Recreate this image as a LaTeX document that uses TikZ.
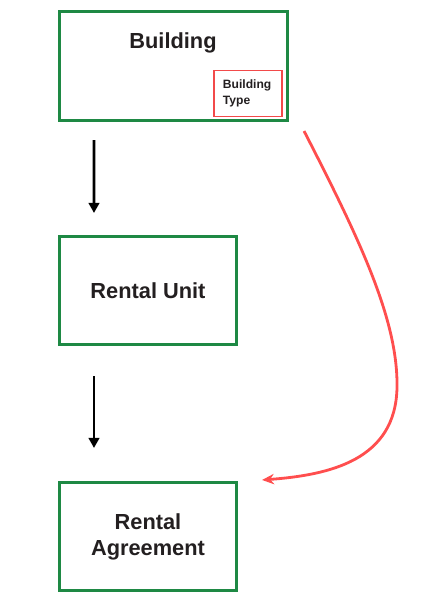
\documentclass[tikz,border=0pt]{standalone}
\usepackage{xcolor}
\usepackage{fontspec}
\setmainfont{Liberation Sans}
\usepackage{tikz}
\usetikzlibrary{arrows.meta}

\definecolor{boxgreen}{RGB}{30,137,68}
\definecolor{linkred}{RGB}{255,78,78}
\definecolor{textdark}{RGB}{35,31,32}

\begin{document}
\begin{tikzpicture}[x=0.025cm, y=-0.025cm,
    every node/.style={text=textdark},
    entity/.style={draw=boxgreen, line width=0.075cm, align=center,
                   font=\fontsize{15.5}{18.6}\selectfont\bfseries},
    attr/.style={draw=linkred!95!black, line width=0.04cm, align=left,
                 text width=1.25cm, inner sep=0.23cm,
                 minimum width=1.71cm, minimum height=1.14cm,
                 font=\fontsize{8.6}{10.9}\selectfont\bfseries},
    flow/.style={-{Triangle[length=0.25cm, width=0.26cm]}, black, line width=0.07cm},
    link/.style={-{Stealth[length=0.3cm, width=0.26cm]}, linkred, line width=0.07cm}]
  \useasboundingbox (0,0) rectangle (437,604);

  % Building with its type
  \node[entity, minimum width=5.7cm, minimum height=2.725cm] (bldg) at (173.5,66) {};
  \node[font=\fontsize{15.5}{18.6}\selectfont\bfseries] (bldgname) at (173,43) {Building};
  \node[attr] (btype) at (248,93.5) {Building\\Type};

  % Unit and agreement
  \node[entity, minimum width=4.425cm, minimum height=2.7cm] (unit) at (148,290.5) {Rental Unit};
  \node[entity, minimum width=4.425cm, minimum height=2.7cm] (agree) at (148,536.5) {Rental\\Agreement};

  % Downward arrows
  \draw[flow] ([xshift=0.9cm, yshift=-0.45cm]bldg.south west) -- ([xshift=0.9cm, yshift=0.55cm]unit.north west);
  \draw[flow] ([xshift=0.9cm, yshift=-0.75cm]unit.south west) -- ([xshift=0.9cm, yshift=0.825cm]agree.north west);

  % Curved link building -> agreement
  \coordinate (bend) at (397,387);
  \draw[link] ([xshift=0.375cm, yshift=-0.225cm]bldg.south east)
    .. controls +(56,109) and +(1,-67) .. (bend)
    .. controls +(-1,73) and +(68,-5) .. ([xshift=0.6cm, yshift=0.025cm]agree.north east);
\end{tikzpicture}
\end{document}
